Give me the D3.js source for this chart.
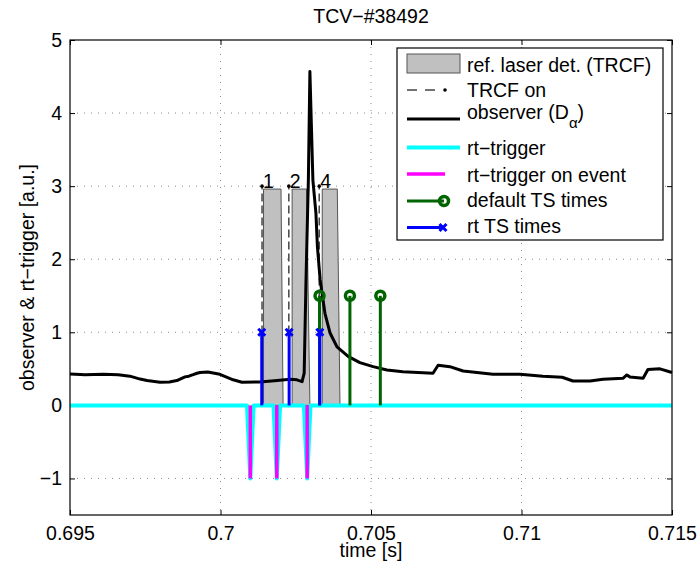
<!DOCTYPE html>
<meta charset="utf-8">
<script src="https://d3js.org/d3.v7.min.js"></script>
<style>
  body { margin: 0; background: #fff; }
  text { font-family: "Liberation Sans", Arial, Helvetica, sans-serif; }
</style>
<div id="my_dataviz"></div>
<script>

var xTicks = [0.695, 0.7, 0.705, 0.71, 0.715];
var yTicks = [-1, 0, 1, 2, 3, 4, 5];

// reference laser detection (TRCF) pulses
var laserStart  = [0.70143, 0.70238, 0.70338];
var laserTopEnd = [0.70201, 0.70286, 0.70388];
var laserEnd    = [0.70208, 0.70297, 0.70397];
var laserLevel  = 2.96;

// TRCF on markers
var trcfOnT = [0.70138, 0.70227, 0.70328];
var trcfOnV = 3.0;
var trcfLabels = ["1", "2", "4"];

// observer (D alpha)
var obsT = [0.69500, 0.69550, 0.69610, 0.69660, 0.69699, 0.69733, 0.69756, 0.69799, 0.69830, 0.69855,
            0.69882, 0.69895, 0.69909, 0.69922, 0.69932, 0.69958, 0.69998, 0.70042, 0.70071, 0.70131,
            0.70188, 0.70231, 0.70254, 0.70271, 0.70278, 0.70284, 0.70292, 0.70297, 0.70307, 0.70317,
            0.70322, 0.70331, 0.70347, 0.70364, 0.70387, 0.70424, 0.70463, 0.70507, 0.70553, 0.70606,
            0.70706, 0.70723, 0.70762, 0.70806, 0.70852, 0.70905, 0.70995, 0.71071, 0.71135, 0.71171,
            0.71228, 0.71271, 0.71337, 0.71350, 0.71360, 0.71404, 0.71420, 0.71460, 0.71500];
var obsV = [0.43, 0.42, 0.425, 0.42, 0.40, 0.36, 0.34, 0.316, 0.32, 0.34,
            0.39, 0.40, 0.42, 0.44, 0.45, 0.457, 0.425, 0.35, 0.316, 0.32,
            0.34, 0.357, 0.35, 0.325, 0.44, 1.7, 3.1, 4.57, 3.08, 2.63,
            2.17, 1.72, 1.26, 0.99, 0.80, 0.67, 0.585, 0.53, 0.485, 0.46,
            0.44, 0.55, 0.53, 0.47, 0.45, 0.425, 0.425, 0.40, 0.385, 0.334,
            0.334, 0.357, 0.37, 0.416, 0.39, 0.37, 0.49, 0.50, 0.45];

// rt-trigger signal
var trigT = [0.695, 0.70088, 0.70099, 0.70110, 0.70176, 0.70187, 0.70198, 0.70277, 0.70288, 0.70299, 0.715];
var trigV = [0, 0, -1, 0, 0, -1, 0, 0, -1, 0, 0];

// rt-trigger on event
var eventT = [0.70099, 0.70187, 0.70288];
var eventV = -1;

// default TS times and rt TS times
var defaultTsT = [0.70329, 0.70430, 0.70531];
var defaultTsV = 1.5;
var rtTsT = [0.70137, 0.70228, 0.70330];
var rtTsV = 1.0;

var legendLabels = ["ref. laser det. (TRCF)", "TRCF on", "observer (D", "rt\u2212trigger",
                    "rt\u2212trigger on event", "default TS times", "rt TS times"];

// ---- chart ----
var W = 700, H = 570;
var pL = 70, pR = 672, pT = 40, pB = 515;

var svg = d3.select("#my_dataviz")
  .append("svg")
    .attr("width", W)
    .attr("height", H);

var x = d3.scaleLinear().domain([0.695, 0.715]).range([pL, pR]);
var y = d3.scaleLinear().domain([-1.5, 5]).range([pB, pT]);

// grid (dotted)
svg.append("g")
  .selectAll("line")
  .data(xTicks.slice(1, -1))
  .enter().append("line")
    .attr("x1", function(d) { return x(d); }).attr("x2", function(d) { return x(d); })
    .attr("y1", pT).attr("y2", pB)
    .attr("stroke", "#8a8a8a").attr("stroke-dasharray", "1,6");
svg.append("g")
  .selectAll("line")
  .data(yTicks.slice(0, -1))
  .enter().append("line")
    .attr("y1", function(d) { return y(d); }).attr("y2", function(d) { return y(d); })
    .attr("x1", pL).attr("x2", pR)
    .attr("stroke", "#8a8a8a").attr("stroke-dasharray", "1,6");

// axes, ticks inside
var fmt = function(d) { return String(d).replace("-", "\u2212"); };
var gx = svg.append("g")
  .attr("transform", "translate(0," + pB + ")")
  .call(d3.axisBottom(x).tickValues(xTicks).tickFormat(fmt).tickSizeInner(-5).tickSizeOuter(0).tickPadding(11));
var gy = svg.append("g")
  .attr("transform", "translate(" + pL + ",0)")
  .call(d3.axisLeft(y).tickValues(yTicks).tickFormat(fmt).tickSizeInner(-5).tickSizeOuter(0).tickPadding(8));
var gt = svg.append("g")
  .attr("transform", "translate(0," + pT + ")")
  .call(d3.axisTop(x).tickValues(xTicks).tickFormat("").tickSizeInner(-5).tickSizeOuter(0));
var gr = svg.append("g")
  .attr("transform", "translate(" + pR + ",0)")
  .call(d3.axisRight(y).tickValues(yTicks).tickFormat("").tickSizeInner(-5).tickSizeOuter(0));
[gx, gy, gt, gr].forEach(function(g) {
  g.select(".domain").remove();
  g.selectAll("text").style("font-size", "19.5px").attr("fill", "#000")
    .style("font-family", "'Liberation Sans', Arial, Helvetica, sans-serif");
  g.selectAll(".tick line").attr("stroke", "#000");
});

// gray laser pulses
var pulseLine = d3.line().x(function(d) { return x(d[0]); }).y(function(d) { return y(d[1]); });
svg.append("g")
  .selectAll("path")
  .data(laserStart.map(function(s, i) {
    return [[s, 0], [s, laserLevel], [laserTopEnd[i], laserLevel], [laserEnd[i], 0]];
  }))
  .enter().append("path")
    .attr("d", function(d) { return pulseLine(d) + "Z"; })
    .attr("fill", "#c0c0c0")
    .attr("stroke", "#555")
    .attr("stroke-width", 1);

// TRCF on: dashed verticals with dot
svg.append("g")
  .selectAll("line")
  .data(trcfOnT)
  .enter().append("line")
    .attr("x1", function(d) { return x(d); }).attr("x2", function(d) { return x(d); })
    .attr("y1", y(0)).attr("y2", y(trcfOnV))
    .attr("stroke", "#444").attr("stroke-width", 1.5).attr("stroke-dasharray", "8,4");
svg.append("g")
  .selectAll("circle")
  .data(trcfOnT)
  .enter().append("circle")
    .attr("cx", function(d) { return x(d); }).attr("cy", y(trcfOnV))
    .attr("r", 1.8).attr("fill", "#000");
svg.append("g")
  .selectAll("text")
  .data(trcfOnT)
  .enter().append("text")
    .attr("x", function(d) { return x(d) + 1; })
    .attr("y", y(trcfOnV) + 2)
    .style("font-size", "19.5px")
    .text(function(d, i) { return trcfLabels[i]; });

// observer
var obsLine = d3.line()
  .x(function(d, i) { return x(obsT[i]); })
  .y(function(d) { return y(d); });
svg.append("path")
  .attr("d", obsLine(obsV))
  .attr("fill", "none")
  .attr("stroke", "#000")
  .attr("stroke-width", 3)
  .attr("stroke-linejoin", "round");

// rt-trigger
var trigLine = d3.line()
  .x(function(d, i) { return x(trigT[i]); })
  .y(function(d) { return y(d); });
svg.append("path")
  .attr("d", trigLine(trigV))
  .attr("fill", "none")
  .attr("stroke", "#00ffff")
  .attr("stroke-width", 4)
  .attr("stroke-linejoin", "round");

// rt-trigger on event
svg.append("g")
  .selectAll("line")
  .data(eventT)
  .enter().append("line")
    .attr("x1", function(d) { return x(d); }).attr("x2", function(d) { return x(d); })
    .attr("y1", y(0)).attr("y2", y(eventV))
    .attr("stroke", "#ff00ff").attr("stroke-width", 3.5);

// default TS times (green stems, circles)
svg.append("g")
  .selectAll("line")
  .data(defaultTsT)
  .enter().append("line")
    .attr("x1", function(d) { return x(d); }).attr("x2", function(d) { return x(d); })
    .attr("y1", y(0)).attr("y2", y(defaultTsV))
    .attr("stroke", "#006400").attr("stroke-width", 3);
svg.append("g")
  .selectAll("circle")
  .data(defaultTsT)
  .enter().append("circle")
    .attr("cx", function(d) { return x(d); }).attr("cy", y(defaultTsV))
    .attr("r", 4.5).attr("fill", "none")
    .attr("stroke", "#006400").attr("stroke-width", 3.5);

// rt TS times (blue stems, crosses)
svg.append("g")
  .selectAll("line")
  .data(rtTsT)
  .enter().append("line")
    .attr("x1", function(d) { return x(d); }).attr("x2", function(d) { return x(d); })
    .attr("y1", y(0)).attr("y2", y(rtTsV))
    .attr("stroke", "#0000ff").attr("stroke-width", 3);
svg.append("g")
  .selectAll("path")
  .data(rtTsT)
  .enter().append("path")
    .attr("transform", function(d) { return "translate(" + x(d) + "," + y(rtTsV) + ")"; })
    .attr("d", "M-3.5,-3.5L3.5,3.5M-3.5,3.5L3.5,-3.5")
    .attr("stroke", "#0000ff").attr("stroke-width", 3);

// frame
svg.append("rect")
  .attr("x", pL).attr("y", pT)
  .attr("width", pR - pL).attr("height", pB - pT)
  .attr("fill", "none").attr("stroke", "#000").attr("stroke-width", 1.2);

// title and axis labels
svg.append("text")
  .attr("x", (pL + pR) / 2).attr("y", 23)
  .attr("text-anchor", "middle").style("font-size", "19.5px")
  .text("TCV\u2212#38492");
svg.append("text")
  .attr("x", (pL + pR) / 2).attr("y", 557)
  .attr("text-anchor", "middle").style("font-size", "19.5px")
  .text("time [s]");
svg.append("text")
  .attr("transform", "translate(34," + ((pT + pB) / 2) + ") rotate(-90)")
  .attr("text-anchor", "middle").style("font-size", "19.5px")
  .text("observer & rt\u2212trigger [a.u.]");

// legend
var lg = svg.append("g");
lg.append("rect")
  .attr("x", 397).attr("y", 48).attr("width", 266).attr("height", 192)
  .attr("fill", "#fff").attr("stroke", "#000").attr("stroke-width", 1.2);
var textY = [71.5, 96.5, 118.5, 155, 181.5, 206.5, 233];
lg.selectAll("text.lab")
  .data(legendLabels)
  .enter().append("text")
    .attr("class", "lab")
    .attr("x", 467).attr("y", function(d, i) { return textY[i]; })
    .style("font-size", "19.5px")
    .each(function(d, i) {
      var t = d3.select(this);
      if (i === 2) {
        t.append("tspan").text(d);
        t.append("tspan").attr("dy", 9).style("font-size", "15px").text("\u03b1");
        t.append("tspan").attr("dy", -9).text(")");
      } else {
        t.text(d);
      }
    });
// swatches
lg.append("rect").attr("x", 407).attr("y", 54).attr("width", 53).attr("height", 19)
  .attr("fill", "#c0c0c0").attr("stroke", "#555");
lg.append("line").attr("x1", 407).attr("x2", 437).attr("y1", 90).attr("y2", 90)
  .attr("stroke", "#444").attr("stroke-width", 1.5).attr("stroke-dasharray", "10,8");
lg.append("circle").attr("cx", 445).attr("cy", 90).attr("r", 1.8).attr("fill", "#000");
lg.append("line").attr("x1", 407).attr("x2", 460).attr("y1", 119).attr("y2", 119)
  .attr("stroke", "#000").attr("stroke-width", 3);
lg.append("line").attr("x1", 407).attr("x2", 460).attr("y1", 147.5).attr("y2", 147.5)
  .attr("stroke", "#00ffff").attr("stroke-width", 4);
lg.append("line").attr("x1", 407).attr("x2", 445).attr("y1", 174).attr("y2", 174)
  .attr("stroke", "#ff00ff").attr("stroke-width", 3.5);
lg.append("line").attr("x1", 407).attr("x2", 444).attr("y1", 201).attr("y2", 201)
  .attr("stroke", "#006400").attr("stroke-width", 3);
lg.append("circle").attr("cx", 444).attr("cy", 201).attr("r", 4.5)
  .attr("fill", "none").attr("stroke", "#006400").attr("stroke-width", 3.5);
lg.append("line").attr("x1", 407).attr("x2", 443).attr("y1", 227.5).attr("y2", 227.5)
  .attr("stroke", "#0000ff").attr("stroke-width", 3);
lg.append("path").attr("transform", "translate(443,227.5)")
  .attr("d", "M-3.5,-3.5L3.5,3.5M-3.5,3.5L3.5,-3.5")
  .attr("stroke", "#0000ff").attr("stroke-width", 3);

</script>
